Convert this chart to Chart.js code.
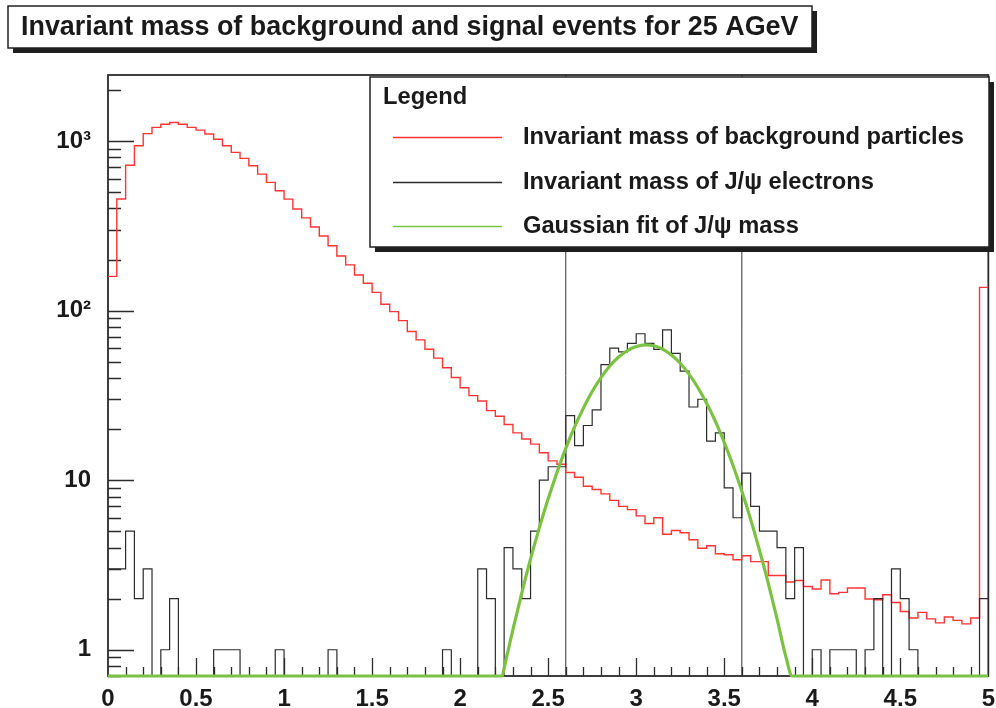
<!DOCTYPE html>
<html><head><meta charset="utf-8">
<script src="https://cdn.jsdelivr.net/npm/chart.js@4/dist/chart.umd.min.js"></script>
<style>html,body{margin:0;padding:0;background:#fff;}canvas{display:block;}</style>
</head><body>
<canvas id="c" width="996" height="708"></canvas>
<script>
// ---------- data ----------
const titleText = 'Invariant mass of background and signal events for 25 AGeV';
const legendTitle = 'Legend';
const seriesNames = ['Invariant mass of background particles', 'Invariant mass of J/\u03C8 electrons', 'Gaussian fit of J/\u03C8 mass'];

// histogram bin low edges (bin width 0.05)
const binLowEdges = [0,0.05,0.1,0.15,0.2,0.25,0.3,0.35,0.4,0.45,0.5,0.55,0.6,0.65,0.7,0.75,0.8,0.85,0.9,0.95,
  1,1.05,1.1,1.15,1.2,1.25,1.3,1.35,1.4,1.45,1.5,1.55,1.6,1.65,1.7,1.75,1.8,1.85,1.9,1.95,
  2,2.05,2.1,2.15,2.2,2.25,2.3,2.35,2.4,2.45,2.5,2.55,2.6,2.65,2.7,2.75,2.8,2.85,2.9,2.95,
  3,3.05,3.1,3.15,3.2,3.25,3.3,3.35,3.4,3.45,3.5,3.55,3.6,3.65,3.7,3.75,3.8,3.85,3.9,3.95,
  4,4.05,4.1,4.15,4.2,4.25,4.3,4.35,4.4,4.45,4.5,4.55,4.6,4.65,4.7,4.75,4.8,4.85,4.9,4.95];
const binUpperEnd = 5;

const backgroundCounts = [159,455,720,938,1105,1203,1255,1285,1255,1203,
  1159,1099,1024,938,857,790,715,638,570,509,
  454,397,352,311,275,241,210,186,162,145,
  128,109,98.6,87.3,75.2,67.2,59.2,52.4,46,40.3,
  35.1,31.5,29.3,25.7,23.8,21.3,19,17.5,16.3,14.5,
  13,12.4,11.1,10.4,9.2,8.8,8.3,7.6,7.0,6.7,
  6.16,5.55,6.0,4.8,5.05,4.9,4.45,3.97,4.1,3.68,
  3.63,3.39,3.58,3.31,3.31,2.74,2.74,2.51,2.56,2.36,
  2.28,2.58,2.14,2.18,2.31,2.31,1.99,1.97,2.11,1.90,
  1.68,1.54,1.66,1.52,1.44,1.56,1.49,1.42,1.54,137];

const signalCounts = [3,3,5,2,3,0,1,2,0,0,
  0,0,1,1,1,0,0,0,0,1,
  0,0,0,0,0,1,0,0,0,0,
  0,0,0,0,0,0,0,0,1,0,
  0,0,3,2,0,4,3,2,5,10,
  12,12,24,16,21,26,48,60,57,64,
  73,64,59,77,56,44,27,30,17,19,
  9,6,11,7,5,5,4,2,4,0,
  1,0,1,1,1,0,1,2,0,3,
  2,1,0,0,0,0,0,0,0,2];

const fitX = [0,2.24,2.25,2.3,2.35,2.4,2.45,2.5,2.55,2.6,2.65,2.7,2.75,2.8,2.85,2.9,2.95,3.0,3.05,3.1,3.15,3.2,3.25,3.3,3.35,3.4,3.45,3.5,3.55,3.6,3.65,3.7,3.75,3.8,3.85,3.886,5];
const fitY = [0,0,0.78,1.32,2.16,3.43,5.25,7.76,11.1,15.4,20.6,26.6,33.3,40.2,47.1,53.2,58.1,61.4,62.8,62.0,59.3,54.7,48.9,42.2,35.2,28.4,22.2,16.7,12.2,8.6,5.87,3.87,2.47,1.52,0.91,0,0];

const massWindow = [2.6, 3.6];

const xTickValues = [0,0.5,1,1.5,2,2.5,3,3.5,4,4.5,5];
const xTickLabels = ['0','0.5','1','1.5','2','2.5','3','3.5','4','4.5','5'];
const yTickValues = [1,10,100,1000];
const yTickLabels = ['1','10','10\u00B2','10\u00B3'];
const xRange = [0, 5];
const yRange = [0.7, 2450];

// ---------- styles ----------
const RED = '#ff3535', BLACK = '#2b2b2b', GREEN = '#7cc242';
const FONT = '"Liberation Sans", Arial, Helvetica, sans-serif';

// ---------- build datasets ----------
const floor = v => (v > 0 ? v : yRange[0]);
function histPoints(counts) {
  const pts = binLowEdges.map((x, i) => ({x, y: floor(counts[i])}));
  pts.push({x: binUpperEnd, y: floor(counts[counts.length - 1])});
  return pts;
}
const datasets = [
  {label: seriesNames[2], data: fitX.map((x, i) => ({x, y: floor(fitY[i])})), borderColor: GREEN, borderWidth: 3.2,
   cubicInterpolationMode: 'monotone', order: 0, clip: {left: 0, top: 0, right: 0, bottom: 2}},
  {label: seriesNames[1], data: histPoints(signalCounts), borderColor: BLACK, borderWidth: 1.2, stepped: 'before', order: 1},
  {label: seriesNames[0], data: histPoints(backgroundCounts), borderColor: RED, borderWidth: 1.4, stepped: 'before', order: 2},
];
massWindow.forEach(m => datasets.push({label: '', data: [{x: m, y: yRange[0]}, {x: m, y: yRange[1]}],
  borderColor: '#333', borderWidth: 1, order: 3}));

const decor = {
  id: 'decor',
  beforeDatasetsDraw(chart) {
    const {ctx, chartArea: a, scales: {x, y}} = chart;
    ctx.save();
    ctx.strokeStyle = '#2a2a2a';
    ctx.lineWidth = 1.3;
    ctx.beginPath();
    for (let k = 1; k < 50; k++) {
      const px = Math.round(x.getPixelForValue(k / 10)) + 0.5;
      const len = (k % 5 === 0) ? 18 : 9;
      ctx.moveTo(px, a.bottom); ctx.lineTo(px, a.bottom - len);
    }
    for (const d of [0.1, 1, 10, 100, 1000]) for (let m = 1; m < 10; m++) {
      const v = m * d;
      if (v < y.min || v > y.max) continue;
      const py = Math.round(y.getPixelForValue(v)) + 0.5;
      const len = m === 1 ? 26 : 13;
      ctx.moveTo(a.left, py); ctx.lineTo(a.left + len, py);
    }
    ctx.stroke();
    ctx.lineWidth = 1.8;
    ctx.strokeRect(a.left, a.top, a.right - a.left, a.bottom - a.top);
    ctx.restore();
  },
  afterDraw(chart) {
    const ctx = chart.ctx;
    ctx.save();
    // title box
    const tb = {l: 8, t: 6, r: 812, b: 48};
    ctx.fillStyle = '#1e1e1e';
    ctx.fillRect(tb.l + 5, tb.t + 5, tb.r - tb.l, tb.b - tb.t);
    ctx.fillStyle = '#fff';
    ctx.fillRect(tb.l, tb.t, tb.r - tb.l, tb.b - tb.t);
    ctx.strokeStyle = '#222'; ctx.lineWidth = 1.5;
    ctx.strokeRect(tb.l, tb.t, tb.r - tb.l, tb.b - tb.t);
    ctx.font = 'bold 22px ' + FONT;
    let w = ctx.measureText(titleText).width;
    let fs = 22 * 778 / w;
    ctx.font = 'bold ' + fs.toFixed(2) + 'px ' + FONT;
    ctx.fillStyle = '#1a1a1a';
    ctx.textBaseline = 'middle'; ctx.textAlign = 'left';
    ctx.fillText(titleText, 21, 28);

    // legend box
    const lb = {l: 370, t: 77, r: 989, b: 247};
    ctx.fillStyle = '#1e1e1e';
    ctx.fillRect(lb.l + 5, lb.t + 5, lb.r - lb.l, lb.b - lb.t);
    ctx.fillStyle = '#fff';
    ctx.fillRect(lb.l, lb.t, lb.r - lb.l, lb.b - lb.t);
    ctx.strokeStyle = '#222'; ctx.lineWidth = 1.5;
    ctx.strokeRect(lb.l, lb.t, lb.r - lb.l, lb.b - lb.t);
    ctx.font = 'bold 20px ' + FONT;
    w = ctx.measureText(seriesNames[0]).width;
    fs = 20 * 441 / w;
    ctx.font = 'bold ' + fs.toFixed(2) + 'px ' + FONT;
    ctx.fillStyle = '#1a1a1a';
    ctx.fillText(legendTitle, 383, 97);
    const colors = [RED, BLACK, GREEN];
    const rows = [137, 182, 226];
    rows.forEach((ry, i) => {
      ctx.strokeStyle = colors[i]; ctx.lineWidth = 1.4;
      ctx.beginPath(); ctx.moveTo(393, ry + 0.5); ctx.lineTo(502, ry + 0.5); ctx.stroke();
      ctx.fillStyle = '#1a1a1a';
      ctx.fillText(seriesNames[i], 523, ry);
    });
    ctx.restore();
  }
};

new Chart(document.getElementById('c'), {
  type: 'line',
  data: {datasets},
  options: {
    responsive: false, animation: false, devicePixelRatio: 1,
    layout: {padding: {top: 75, right: 7, left: 0, bottom: 0}},
    elements: {point: {radius: 0}, line: {tension: 0}},
    scales: {
      x: {type: 'linear', min: xRange[0], max: xRange[1],
        afterBuildTicks: s => { s.ticks = xTickValues.map(v => ({value: v})); },
        afterFit: s => { s.height = 32; },
        grid: {display: false}, border: {display: false},
        ticks: {autoSkip: false, maxRotation: 0, padding: 1, color: '#1a1a1a',
          font: {family: FONT, size: 24, weight: 'bold'},
          callback: (v, i) => xTickLabels[i]}},
      y: {type: 'logarithmic', min: yRange[0], max: yRange[1],
        afterBuildTicks: s => { s.ticks = yTickValues.map(v => ({value: v})); },
        afterFit: s => { s.width = 108; },
        grid: {display: false}, border: {display: false},
        ticks: {autoSkip: false, padding: 9, color: '#1a1a1a',
          font: {family: FONT, size: 24, weight: 'bold'},
          callback: (v, i) => yTickLabels[i]}}
    },
    plugins: {legend: {display: false}, tooltip: {enabled: false}, title: {display: false}}
  },
  plugins: [decor]
});
</script>
</body></html>
